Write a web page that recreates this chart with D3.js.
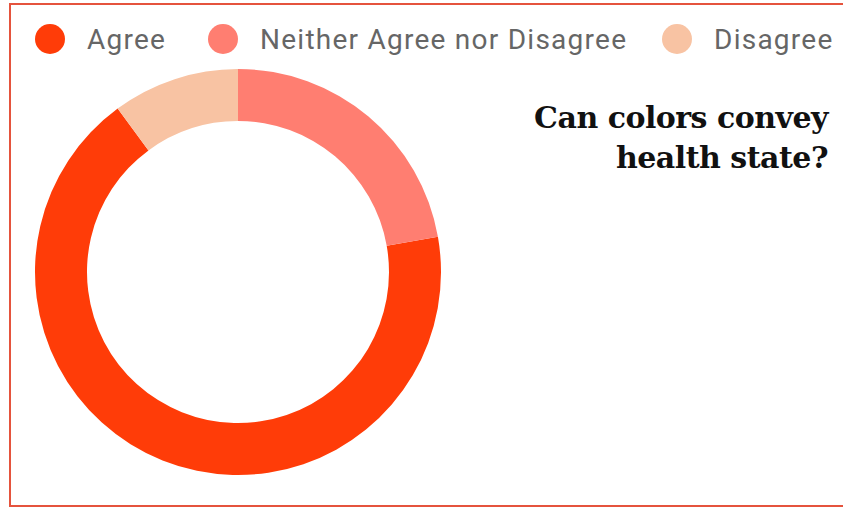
<!DOCTYPE html>
<html>
<head>
<meta charset="utf-8">
<script src="https://cdn.jsdelivr.net/npm/d3@7"></script>
<style>
  html, body { margin: 0; padding: 0; background: #fff; }
  svg { display: block; }
</style>
</head>
<body>
<svg id="chart" width="843" height="508"></svg>
<script>
// Survey responses
const categories = ["Agree", "Neither Agree nor Disagree", "Disagree"];
const values = [67, 22, 10];
const colors = ["#ff3c08", "#ff7e71", "#f8c3a3"];
const titleLines = ["Can colors convey", "health state?"];

const svg = d3.select("#chart");
const W = 843, H = 508;

// frame
svg.append("rect")
  .attr("x", 10).attr("y", 4)
  .attr("width", W + 10).attr("height", 502)
  .attr("fill", "none")
  .attr("stroke", "#e5533d")
  .attr("stroke-width", 2);

const data = categories.map((c, i) => ({ name: c, value: values[i] }));
const total = d3.sum(values);

const color = d3.scaleOrdinal().domain(categories).range(colors);

// counter-clockwise layout, ending at 12 o'clock with the last slice
const start = -2 * Math.PI * values[values.length - 1] / total;
const pie = d3.pie().sort(null).value(d => d.value)
  .startAngle(start).endAngle(start - 2 * Math.PI);

const arc = d3.arc().innerRadius(151).outerRadius(203);

const g = svg.append("g").attr("transform", "translate(238,272)");
g.selectAll("path")
  .data(pie(data))
  .join("path")
  .attr("d", arc)
  .attr("fill", d => color(d.data.name));

// legend
const legendX = [50, 223, 677];
const legend = svg.append("g");
const items = legend.selectAll("g")
  .data(data)
  .join("g")
  .attr("transform", (d, i) => `translate(${legendX[i]},39)`);
items.append("circle").attr("r", 15).attr("fill", d => color(d.name));
items.append("text")
  .attr("x", 37).attr("dy", "0.36em")
  .attr("font-family", "Roboto, sans-serif")
  .attr("font-size", 28)
  .attr("letter-spacing", 1.25)
  .attr("fill", "#666")
  .text(d => d.name);

// title
svg.append("text")
  .attr("text-anchor", "end")
  .attr("font-family", "'DejaVu Serif', serif")
  .attr("font-weight", "bold")
  .attr("font-size", 30)
  .attr("letter-spacing", -0.5)
  .attr("fill", "#111")
  .selectAll("tspan")
  .data(titleLines)
  .join("tspan")
  .attr("x", 828)
  .attr("y", (d, i) => 128 + i * 40)
  .text(d => d);
</script>
</body>
</html>
